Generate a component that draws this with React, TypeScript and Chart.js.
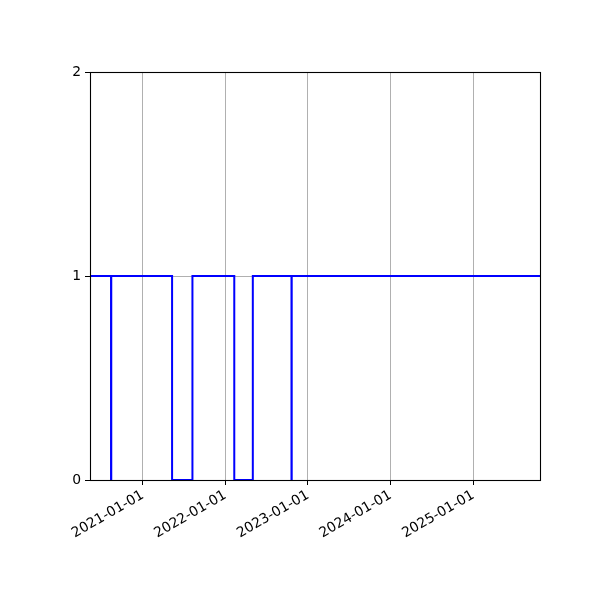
import { useEffect, useRef } from "react";
import { Chart, registerables } from "chart.js";

Chart.register(...registerables);

// step series: each value holds until the next date
const stepDates = [
  "2020-05-12",
  "2020-08-13",
  "2020-08-14",
  "2021-05-10",
  "2021-08-08",
  "2022-02-09",
  "2022-05-02",
  "2022-10-20",
  "2022-10-21",
  "2025-10-23",
];
const stepValues = [1, 0, 1, 0, 1, 0, 1, 0, 1, 1];

const xStart = "2020-05-12";
const xEnd = "2025-10-23";
const tickYears = [2021, 2022, 2023, 2024, 2025];
const yMin = 0;
const yMax = 2;

const toMs = (s: string) => Date.parse(s + "T00:00:00Z");
const fmtDate = (v: number) => new Date(v).toISOString().slice(0, 10);

const framePlugin = {
  id: "frame",
  afterDatasetsDraw(chart: Chart) {
    const { ctx, chartArea: a } = chart;
    const l = Math.round(a.left) + 0.5;
    const t = Math.round(a.top) + 0.5;
    const r = Math.round(a.right) + 0.5;
    const b = Math.round(a.bottom) + 0.5;
    ctx.save();
    ctx.strokeStyle = "#000";
    ctx.lineWidth = 1.1;
    ctx.strokeRect(l, t, r - l, b - t);
    ctx.restore();
  },
};

export default function App() {
  const canvasRef = useRef<HTMLCanvasElement>(null);

  useEffect(() => {
    const ctx = canvasRef.current!.getContext("2d")!;
    Chart.defaults.color = "#000";
    Chart.defaults.font.family = "DejaVu Sans";
    Chart.defaults.font.size = 13.9;

    const chart = new Chart(ctx, {
      type: "line",
      data: {
        datasets: [
          {
            data: stepDates.map((d, i) => ({ x: toMs(d), y: stepValues[i] })),
            borderColor: "#0000ff",
            borderWidth: 2,
            pointRadius: 0,
            stepped: "before",
            fill: false,
          },
        ],
      },
      options: {
        responsive: false,
        animation: false,
        layout: { padding: { top: 72, right: 60, left: 0, bottom: 0 } },
        plugins: {
          legend: { display: false },
          tooltip: { enabled: false },
        },
        scales: {
          x: {
            type: "linear",
            min: toMs(xStart),
            max: toMs(xEnd),
            afterBuildTicks: (scale: any) => {
              scale.ticks = tickYears.map((y) => ({ value: Date.UTC(y, 0, 1) }));
            },
            afterFit: (scale: any) => {
              scale.height = 120;
            },
            ticks: {
              autoSkip: false,
              minRotation: 30,
              maxRotation: 30,
              padding: 2,
              callback: (v: any) => fmtDate(Number(v)),
            },
            grid: {
              color: "#b0b0b0",
              lineWidth: 1,
              tickColor: "#000",
              tickLength: 5,
            },
            border: { display: false },
          },
          y: {
            min: yMin,
            max: yMax,
            afterFit: (scale: any) => {
              scale.width = 90;
            },
            ticks: { stepSize: 1, padding: 4 },
            grid: {
              color: "#b0b0b0",
              lineWidth: 1,
              tickColor: "#000",
              tickLength: 5,
            },
            border: { display: false },
          },
        },
      },
      plugins: [framePlugin],
    });

    return () => {
      chart.destroy();
    };
  }, []);

  return (
    <div style={{ position: "absolute", left: 0, top: 0, width: 600, height: 600, background: "#fff" }}>
      <canvas ref={canvasRef} width={600} height={600} />
    </div>
  );
}
